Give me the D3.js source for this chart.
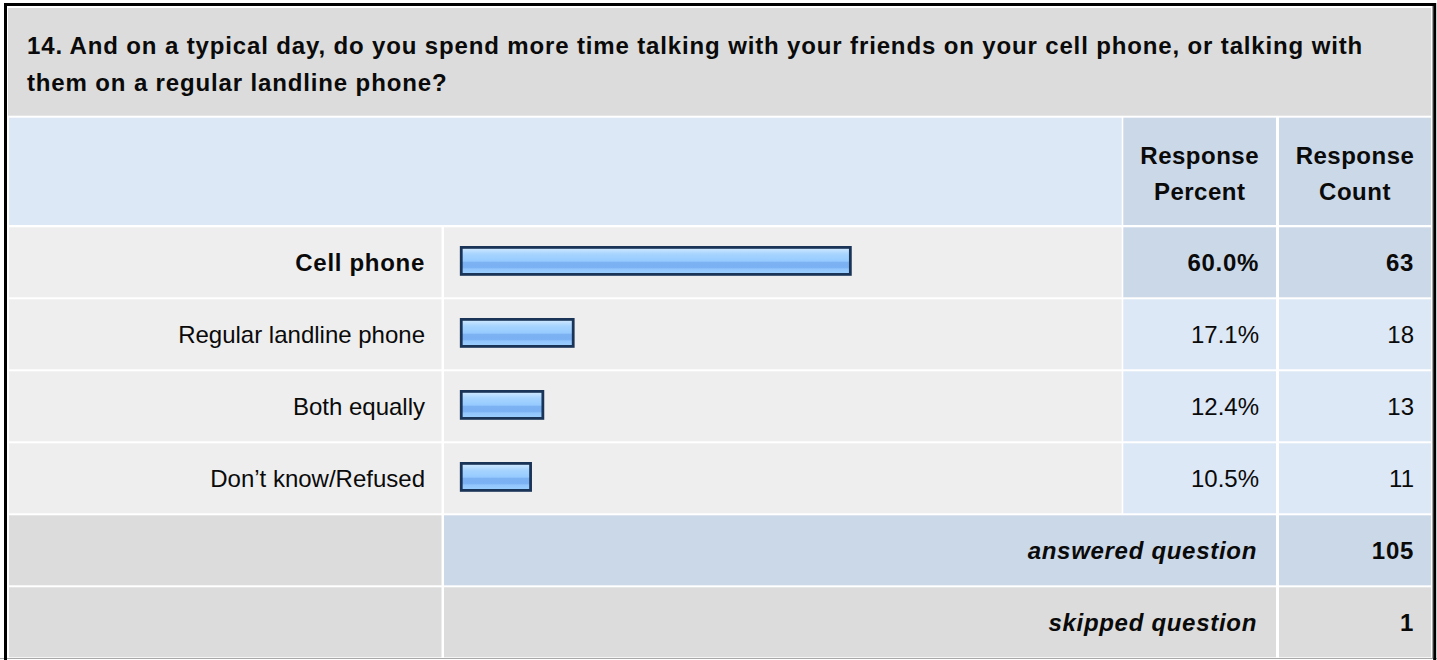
<!DOCTYPE html>
<html>
<head>
<meta charset="utf-8">
<script src="https://cdn.jsdelivr.net/npm/d3@7/dist/d3.min.js"></script>
<style>
  html, body { margin: 0; padding: 0; background: #ffffff; }
  svg { display: block; }
  text { font-family: "Liberation Sans", Arial, sans-serif; fill: #0a0a0a; }
</style>
</head>
<body>
<svg id="chart" width="1437" height="660"></svg>
<script>
// ---- data ----
const questionLines = [
  "14. And on a typical day, do you spend more time talking with your friends on your cell phone, or talking with",
  "them on a regular landline phone?"
];
const headerPercent = ["Response", "Percent"];
const headerCount = ["Response", "Count"];
const answers = ["Cell phone", "Regular landline phone", "Both equally", "Don’t know/Refused"];
const percents = [60.0, 17.1, 12.4, 10.5];
const counts = [63, 18, 13, 11];
const summaryLabels = ["answered question", "skipped question"];
const summaryValues = [105, 1];

// ---- layout ----
const svg = d3.select("#chart");
const W = 1437, H = 660;
const colLabel = [9, 441.5], colBar = [444, 1121.7], colPct = [1123.3, 1276], colCnt = [1279, 1431];

const C = {
  title: "#dcdcdc", headLight: "#dce8f6", headDark: "#cbd8e7",
  cell: "#eeeeee", pctLight: "#dce8f6", pctDark: "#cbd8e7", grey: "#dcdcdc"
};

const defs = svg.append("defs");
const grad = defs.append("linearGradient").attr("id", "barGrad")
  .attr("x1", 0).attr("y1", 0).attr("x2", 0).attr("y2", 1);
[[0, "#d6ecff"], [0.12, "#bfe0ff"], [0.25, "#a6d4ff"], [0.5, "#97cbff"], [0.56, "#7cb2f2"],
 [0.74, "#7ab1f3"], [0.8, "#91c5fc"], [1, "#9dd0ff"]].forEach(([o, c]) =>
  grad.append("stop").attr("offset", o).attr("stop-color", c));

// title
svg.append("rect").attr("x", 8).attr("y", 8).attr("width", 1431 - 8).attr("height", 115.7 - 8).attr("fill", C.title);
svg.append("g").selectAll("text").data(questionLines).join("text")
  .attr("x", 27).attr("y", (d, i) => 54 + i * 37)
  .style("font-size", "24px").style("font-weight", "bold").style("letter-spacing", "0.86px")
  .text(d => d);

// header row
const headTop = 117.7, headBot = 225;
svg.append("rect").attr("x", colLabel[0]).attr("y", headTop).attr("width", colBar[1] - colLabel[0]).attr("height", headBot - headTop).attr("fill", C.headLight);
[[colPct, headerPercent], [colCnt, headerCount]].forEach(([col, lines]) => {
  svg.append("rect").attr("x", col[0]).attr("y", headTop).attr("width", col[1] - col[0]).attr("height", headBot - headTop).attr("fill", C.headDark);
  svg.append("g").selectAll("text").data(lines).join("text")
    .attr("x", (col[0] + col[1]) / 2).attr("y", (d, i) => 164 + i * 36)
    .attr("text-anchor", "middle")
    .style("font-size", "24px").style("font-weight", "bold").style("letter-spacing", "0.5px")
    .text(d => d);
});

// rows
const rowIdx = d3.range(answers.length + summaryLabels.length);
const y = d3.scaleBand().domain(rowIdx).range([227.3, 657.3]).paddingInner(2 / 72).paddingOuter(0);
const x = d3.scaleLinear().domain([0, 100]).range([0, 646]);
const maxIdx = percents.indexOf(d3.max(percents));

const rows = svg.append("g").selectAll("g").data(answers).join("g")
  .attr("transform", (d, i) => `translate(0,${y(i)})`);
const bh = y.bandwidth();

rows.append("rect").attr("x", colLabel[0]).attr("width", colLabel[1] - colLabel[0]).attr("height", bh).attr("fill", C.cell);
rows.append("rect").attr("x", colBar[0]).attr("width", colBar[1] - colBar[0]).attr("height", bh).attr("fill", C.cell);
rows.append("rect").attr("x", colPct[0]).attr("width", colPct[1] - colPct[0]).attr("height", bh)
  .attr("fill", (d, i) => i === maxIdx ? C.pctDark : C.pctLight);
rows.append("rect").attr("x", colCnt[0]).attr("width", colCnt[1] - colCnt[0]).attr("height", bh)
  .attr("fill", (d, i) => i === maxIdx ? C.pctDark : C.pctLight);

const tStyle = (sel, i) => sel.style("font-size", "24px")
  .style("font-weight", i === maxIdx ? "bold" : "normal")
  .style("letter-spacing", i === maxIdx ? "0.7px" : "0px");

rows.append("text").attr("x", 425).attr("y", bh / 2 + 8.5).attr("text-anchor", "end")
  .each(function (d, i) { tStyle(d3.select(this), i); }).text(d => d);

rows.append("rect")
  .attr("x", 461.25).attr("y", bh / 2 - 1.5 - 13.4)
  .attr("width", (d, i) => x(percents[i]) + 1.5).attr("height", 27)
  .attr("fill", "url(#barGrad)").attr("stroke", "#1a3457").attr("stroke-width", 2.8);

rows.append("text").attr("x", 1259).attr("y", bh / 2 + 8.5).attr("text-anchor", "end")
  .each(function (d, i) { tStyle(d3.select(this), i); }).text((d, i) => percents[i].toFixed(1) + "%");
rows.append("text").attr("x", 1414).attr("y", bh / 2 + 8.5).attr("text-anchor", "end")
  .each(function (d, i) { tStyle(d3.select(this), i); }).text((d, i) => counts[i]);

// summary rows
const sum = svg.append("g").selectAll("g").data(summaryLabels).join("g")
  .attr("transform", (d, i) => `translate(0,${y(answers.length + i)})`);
sum.append("rect").attr("x", colLabel[0]).attr("width", colLabel[1] - colLabel[0]).attr("height", bh).attr("fill", C.grey);
sum.append("rect").attr("x", colBar[0]).attr("width", colPct[1] - colBar[0]).attr("height", bh)
  .attr("fill", (d, i) => i === 0 ? C.pctDark : C.grey);
sum.append("rect").attr("x", colCnt[0]).attr("width", colCnt[1] - colCnt[0]).attr("height", bh)
  .attr("fill", (d, i) => i === 0 ? C.pctDark : C.grey);
sum.append("text").attr("x", 1257).attr("y", bh / 2 + 8.5).attr("text-anchor", "end")
  .style("font-size", "24px").style("font-weight", "bold").style("font-style", "italic").style("letter-spacing", "0.7px")
  .text(d => d);
sum.append("text").attr("x", 1414).attr("y", bh / 2 + 8.5).attr("text-anchor", "end")
  .style("font-size", "24px").style("font-weight", "bold").style("letter-spacing", "0.7px")
  .text((d, i) => summaryValues[i]);

// outer frame
svg.append("line").attr("x1", 0).attr("x2", W).attr("y1", 658.5).attr("y2", 658.5).attr("stroke", "#a8a8a8").attr("stroke-width", 1);
svg.append("path").attr("d", `M5.5,${H} V4.5 H1434.7 V${H}`).attr("fill", "none").attr("stroke", "#000").attr("stroke-width", 3);
svg.append("line").attr("x1", 1432.6).attr("x2", 1432.6).attr("y1", 6).attr("y2", 658).attr("stroke", "#9a9a9a").attr("stroke-width", 1);
</script>
</body>
</html>
